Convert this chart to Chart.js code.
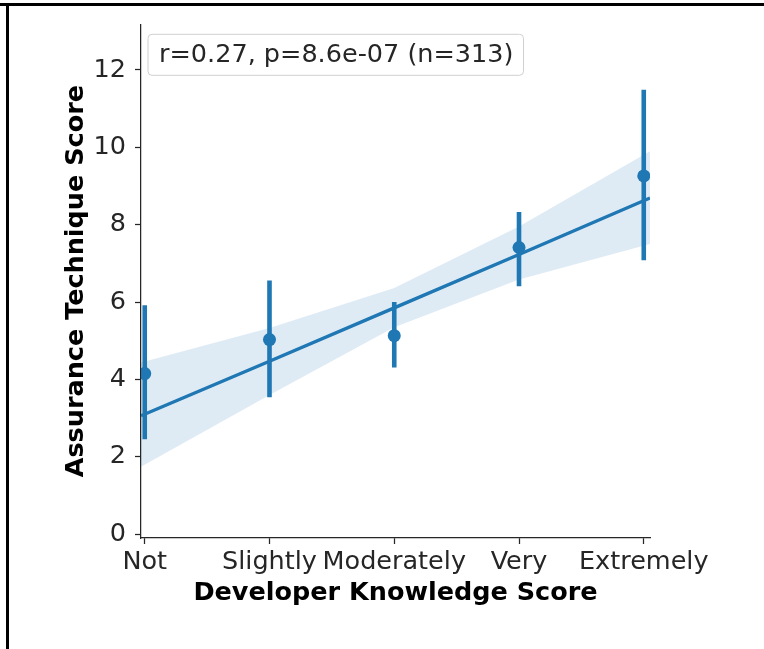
<!DOCTYPE html>
<html>
<head>
<meta charset="utf-8">
<script src="https://cdn.jsdelivr.net/npm/chart.js@4.4.1/dist/chart.umd.min.js"></script>
<style>
  html, body { margin: 0; padding: 0; background: #fff; }
  #wrap { position: relative; width: 764px; height: 649px; overflow: hidden; }
  #frameTop { position: absolute; left: 0; top: 3px; width: 764px; height: 3px; background: #000; }
  #frameLeft { position: absolute; left: 6px; top: 3px; width: 3px; height: 646px; background: #000; }
  canvas { position: absolute; left: 0; top: 0; }
</style>
</head>
<body>
<div id="wrap">
  <canvas id="chart" width="764" height="649"></canvas>
  <div id="frameTop"></div>
  <div id="frameLeft"></div>
</div>
<script>
// Knowledge levels on the x axis
const categories = ['Not', 'Slightly', 'Moderately', 'Very', 'Extremely'];
// Mean assurance score per level, with its 95% interval
const meanScore = [4.15, 5.03, 5.13, 7.41, 9.26];
const ciLow = [2.45, 3.54, 4.31, 6.41, 7.08];
const ciHigh = [5.92, 6.56, 6.00, 8.33, 11.49];
// Linear fit and its confidence band
const fitX = [-0.03, 1, 2, 3, 4.05];
const fitLine = [3.06, 4.47, 5.85, 7.23, 8.69];
const bandLow = [1.74, 3.60, 5.35, 6.58, 7.50];
const bandHigh = [4.44, 5.33, 6.36, 7.95, 9.90];
// Axis ticks
const yTicks = [0, 2, 4, 6, 8, 10, 12];
const xTicks = [0, 1, 2, 3, 4];
const statsLabel = 'r=0.27, p=8.6e-07 (n=313)';

const BLUE = '#1f77b4';
const INK = '#262626';
const FONT = "'DejaVu Sans', sans-serif";

const pts = (xs, ys) => xs.map((x, i) => ({ x: x, y: ys[i] }));

const datasets = [
  {
    data: pts(fitX, bandHigh), showLine: true, borderWidth: 0, borderColor: 'transparent',
    pointRadius: 0, fill: false, order: 10
  },
  {
    data: pts(fitX, bandLow), showLine: true, borderWidth: 0, borderColor: 'transparent',
    pointRadius: 0, fill: '-1', backgroundColor: 'rgba(31,119,180,0.15)', order: 9
  },
  {
    data: pts(fitX, fitLine), showLine: true, borderWidth: 3.4, borderColor: BLUE,
    pointRadius: 0, fill: false, order: 5
  }
];
categories.forEach((c, i) => {
  datasets.push({
    data: [{ x: i, y: ciLow[i] }, { x: i, y: ciHigh[i] }],
    showLine: true, borderWidth: 4.6, borderColor: BLUE, borderCapStyle: 'butt',
    pointRadius: 0, fill: false, order: 2
  });
});
datasets.push({
  data: pts(xTicks, meanScore), showLine: false, pointRadius: 6.5,
  pointBackgroundColor: BLUE, pointBorderWidth: 0, order: 1
});

// Correlation summary box in the upper-left corner of the plot
const statsBox = {
  id: 'statsBox',
  afterDatasetsDraw(chart) {
    const { ctx, chartArea } = chart;
    ctx.save();
    ctx.font = '25.5px ' + FONT;
    const tw = ctx.measureText(statsLabel).width;
    const x = chartArea.left + 7, y = chartArea.top + 10;
    const w = tw + 21, h = 41, r = 4;
    ctx.beginPath();
    ctx.moveTo(x + r, y);
    ctx.arcTo(x + w, y, x + w, y + h, r);
    ctx.arcTo(x + w, y + h, x, y + h, r);
    ctx.arcTo(x, y + h, x, y, r);
    ctx.arcTo(x, y, x + w, y, r);
    ctx.closePath();
    ctx.fillStyle = 'rgba(255,255,255,0.8)';
    ctx.fill();
    ctx.strokeStyle = '#d0d0d0';
    ctx.lineWidth = 1;
    ctx.stroke();
    ctx.fillStyle = INK;
    ctx.textBaseline = 'middle';
    ctx.textAlign = 'left';
    ctx.fillText(statsLabel, x + 11, y + h / 2 + 1);
    ctx.restore();
  }
};

new Chart(document.getElementById('chart'), {
  type: 'scatter',
  data: { datasets: datasets },
  options: {
    responsive: false,
    animation: false,
    events: [],
    layout: { padding: { left: 0, top: 20, right: 114, bottom: 0 } },
    plugins: { legend: { display: false }, tooltip: { enabled: false } },
    scales: {
      x: {
        type: 'linear', min: -0.03, max: 4.05,
        afterBuildTicks: s => { s.ticks = xTicks.map(v => ({ value: v })); },
        afterFit: s => { s.height = 111; },
        ticks: {
          autoSkip: false, maxRotation: 0, padding: 3, color: INK,
          font: { family: FONT, size: 25.5 },
          callback: v => categories[v]
        },
        grid: { drawOnChartArea: false, drawTicks: true, tickLength: 6, tickWidth: 1.25, tickColor: INK },
        border: { display: true, color: INK, width: 1.25 },
        title: {
          display: true, text: 'Developer Knowledge Score', color: '#000',
          font: { family: FONT, size: 25.5, weight: 'bold' },
          padding: { top: 0, bottom: 40.7 }
        }
      },
      y: {
        type: 'linear', min: -0.1, max: 13.18,
        afterBuildTicks: s => { s.ticks = yTicks.map(v => ({ value: v })); },
        afterFit: s => { s.width = 141; },
        ticks: { padding: 9, color: INK, font: { family: FONT, size: 25.5 } },
        grid: { drawOnChartArea: false, drawTicks: true, tickLength: 6, tickWidth: 1.25, tickColor: INK },
        border: { display: true, color: INK, width: 1.25 },
        title: {
          display: true, text: 'Assurance Technique Score', color: '#000',
          font: { family: FONT, size: 25.5, weight: 'bold' },
          padding: { top: 60.7, bottom: 0 }
        }
      }
    }
  },
  plugins: [statsBox]
});
</script>
</body>
</html>
